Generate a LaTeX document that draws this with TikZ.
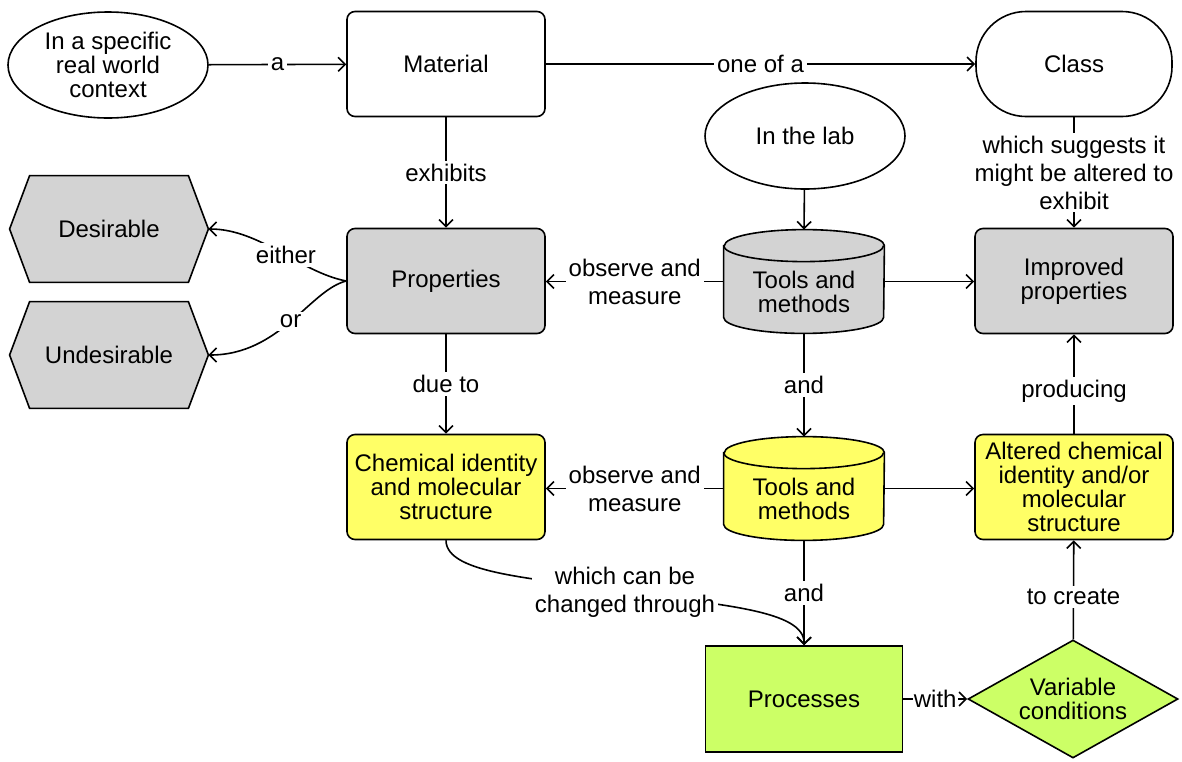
\documentclass[tikz,border=0pt]{standalone}
\usepackage{fontspec}
\setmainfont{Liberation Sans}
\usetikzlibrary{shapes.geometric,arrows.meta}
\definecolor{boxgray}{HTML}{D3D3D3}
\definecolor{boxyellow}{HTML}{FFFF66}
\definecolor{boxgreen}{HTML}{CCFF66}
\pgfdeclarelayer{bg}
\pgfsetlayers{bg,main}
\begin{document}
\begin{tikzpicture}[x=0.5pt,y=0.5pt,
  font=\fontsize{12}{12}\selectfont,
  every node/.style={align=center, text=black},
  base/.style={draw, line width=0.8pt, minimum width=99pt, minimum height=52.5pt, inner sep=1pt},
  rbox/.style={base, rounded corners=4pt},
  oval/.style={draw, line width=0.8pt, ellipse, minimum width=100pt, minimum height=53pt, inner sep=0pt},
  conn/.style={line width=0.8pt, -{Straight Barb[length=3.5pt,width=7pt]}},
  lbl/.style={fill=white, inner sep=1.5pt, font=\fontsize{12}{14}\selectfont},
  shapefill/.style={draw, line width=0.8pt},
  hexbox/.style={minimum width=99pt, minimum height=53pt, inner sep=0pt},
  cylbox/.style={minimum width=80pt, minimum height=51.5pt, inner sep=0pt},
]
\useasboundingbox (0,0) rectangle (1182,-761);

% top row
\node[oval] (ctx) at (108,-65) {In a specific\\real world\\context};
\node[rbox] (mat) at (446,-64) {Material};
\node[base, rounded corners=25pt, minimum width=98pt] (cls) at (1074,-64) {Class};
\node[oval] (lab) at (805,-136) {In the lab};

% properties row
\node[rbox, fill=boxgray] (prop) at (446,-281) {Properties};
\node[rbox, fill=boxgray] (imp) at (1074,-281) {Improved\\properties};
\node[hexbox] (des) at (109,-229) {Desirable};
\node[hexbox] (und) at (109,-355) {Undesirable};
\node[cylbox] (tl1) at (804,-281.5) {};
\node (tl1t) at (804,-292) {Tools and\\methods};

% structure row
\node[rbox, fill=boxyellow] (chem) at (446,-487) {Chemical identity\\and molecular\\structure};
\node[rbox, fill=boxyellow] (alt) at (1074,-487) {Altered chemical\\identity and/or\\molecular\\structure};
\node[cylbox] (tl2) at (804,-488.5) {};
\node (tl2t) at (804,-499) {Tools and\\methods};

% process row
\node[base, fill=boxgreen, minimum width=98.5pt, minimum height=53pt] (proc) at (804,-699) {Processes};
\node[diamond, draw, line width=0.8pt, fill=boxgreen, minimum width=105pt, minimum height=59pt, aspect=1.78, inner sep=0pt] (var) at (1073,-699) {Variable\\conditions};

% hexagons and cylinders behind their texts
\begin{pgfonlayer}{bg}
  \foreach \h in {des,und}{
    \draw[shapefill, fill=boxgray] (\h.west) -- ([xshift=10pt]\h.north west) -- ([xshift=-10pt]\h.north east)
      -- (\h.east) -- ([xshift=-10pt]\h.south east) -- ([xshift=10pt]\h.south west) -- cycle;
  }
  \foreach \c/\col in {tl1/boxgray,tl2/boxyellow}{
    \draw[shapefill, fill=\col] ([yshift=-8pt]\c.north west) -- ([yshift=8pt]\c.south west)
      arc[start angle=180,end angle=360,x radius=80,y radius=16]
      -- ([yshift=-8pt]\c.north east)
      arc[start angle=0,end angle=180,x radius=80,y radius=16] -- cycle;
    \draw[line width=0.8pt] ([yshift=-8pt]\c.north west)
      arc[start angle=180,end angle=360,x radius=80,y radius=16];
  }
\end{pgfonlayer}

% connectors
\draw[conn] (ctx) -- node[lbl]{a} (mat);
\draw[conn] (mat) -- node[lbl]{one of a} (cls);
\draw[conn] (mat) -- node[lbl]{exhibits} (prop);
\draw[conn] (prop.west) .. controls (300,-272) and (260,-229) .. node[lbl, pos=0.45]{either} (des.east);
\draw[conn] (prop.west) .. controls (310,-290) and (280,-355) .. node[lbl, pos=0.5]{or} (und.east);
\draw[conn] (lab) -- (tl1.north);
\draw[conn] (tl1.west -| tl1.west) -- node[lbl]{observe and\\measure} (tl1.west -| prop.east);
\draw[conn] (tl1.east) -- (tl1.east -| imp.west);
\draw[conn] (cls) -- node[lbl]{which suggests it\\might be altered to\\exhibit} (imp);
\draw[conn] (prop) -- node[lbl]{due to} (chem);
\draw[conn] (tl1.south) -- node[lbl]{and} (tl2.north);
\draw[conn] (tl2.west) -- node[lbl]{observe and\\measure} (tl2.west -| chem.east);
\draw[conn] (tl2.east) -- (tl2.east -| alt.west);
\draw[conn] (alt) -- node[lbl, pos=0.43]{producing} (imp);
\draw[conn] (tl2.south) -- node[lbl]{and} (proc.north);
\draw[conn] (proc) -- node[lbl, inner sep=0.5pt]{with} (var);
\draw[conn] (var) -- node[lbl, pos=0.43]{to create} (alt);
\draw[conn] (chem.south) .. controls (446,-575) and (540,-578) .. (625,-592)
  node[lbl]{which can be\\changed through}
  .. controls (720,-605) and (805,-610) .. (proc.north);
\end{tikzpicture}
\end{document}
